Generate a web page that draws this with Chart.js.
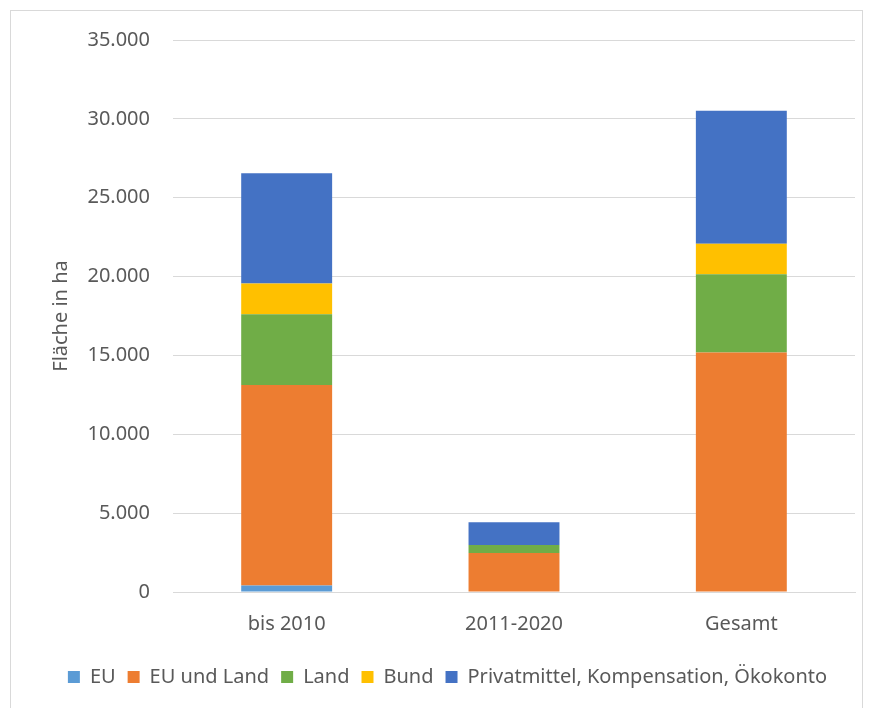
<!DOCTYPE html>
<html>
<head>
<meta charset="utf-8">
<script src="https://cdn.jsdelivr.net/npm/chart.js@4.4.0/dist/chart.umd.min.js"></script>
<style>
  html, body { margin: 0; padding: 0; background: #fff; }
  #wrap { position: relative; width: 870px; height: 708px; }
  #frame { position: absolute; left: 10px; top: 10px; width: 851px; height: 720px; border: 1px solid #d9d9d9; }
  canvas { position: absolute; left: 0; top: 0; }
</style>
</head>
<body>
<div id="wrap">
  <div id="frame"></div>
  <canvas id="chart" width="870" height="708"></canvas>
</div>
<script>
const categories = ['bis 2010', '2011-2020', 'Gesamt'];

const eu = [420, 0, 0];
const euUndLand = [12710, 2480, 15180];
const land = [4480, 505, 4975];
const bund = [1950, 0, 1930];
const privat = [6985, 1445, 8425];

const seriesNames = ['EU', 'EU und Land', 'Land', 'Bund', 'Privatmittel, Kompensation, Ökokonto'];
const seriesColors = ['#5B9BD5', '#ED7D31', '#70AD47', '#FFC000', '#4472C4'];

const fontFamily = "'Noto Sans', 'Open Sans', sans-serif";

function formatDe(v) {
    return String(v).replace(/\B(?=(\d{3})+(?!\d))/g, '.');
}

const ctx = document.getElementById('chart');

new Chart(ctx, {
    type: 'bar',
    data: {
        labels: categories,
        datasets: [eu, euUndLand, land, bund, privat].map((d, i) => ({
            label: seriesNames[i],
            data: d,
            backgroundColor: seriesColors[i],
            borderWidth: 0,
            barPercentage: 0.4,
            categoryPercentage: 1.0,
        }))
    },
    options: {
        responsive: false,
        animation: false,
        layout: {
            padding: { top: 40, right: 15, left: 40, bottom: 11 }
        },
        scales: {
            x: {
                stacked: true,
                grid: { display: false },
                border: { color: '#d9d9d9', width: 1 },
                afterFit: (scale) => { scale.height = scale.height + 7; },
                ticks: {
                    color: '#595959',
                    font: { family: fontFamily, size: 20 },
                    padding: 12,
                }
            },
            y: {
                stacked: true,
                min: 0,
                max: 35000,
                grid: { color: '#d9d9d9', lineWidth: 1, drawTicks: false },
                border: { display: false },
                afterFit: (scale) => { scale.width = 133; },
                ticks: {
                    stepSize: 5000,
                    color: '#595959',
                    font: { family: fontFamily, size: 20 },
                    padding: 23,
                    callback: (v) => formatDe(v),
                },
                title: {
                    display: true,
                    text: 'Fläche in ha',
                    color: '#595959',
                    font: { family: fontFamily, size: 20 },
                    padding: { top: 9, bottom: 10 },
                }
            }
        },
        plugins: {
            legend: {
                position: 'bottom',
                labels: {
                    color: '#595959',
                    font: { family: fontFamily, size: 20 },
                    boxWidth: 12,
                    boxHeight: 12,
                    padding: 12,
                }
            },
            tooltip: { enabled: false }
        }
    }
});
</script>
</body>
</html>
